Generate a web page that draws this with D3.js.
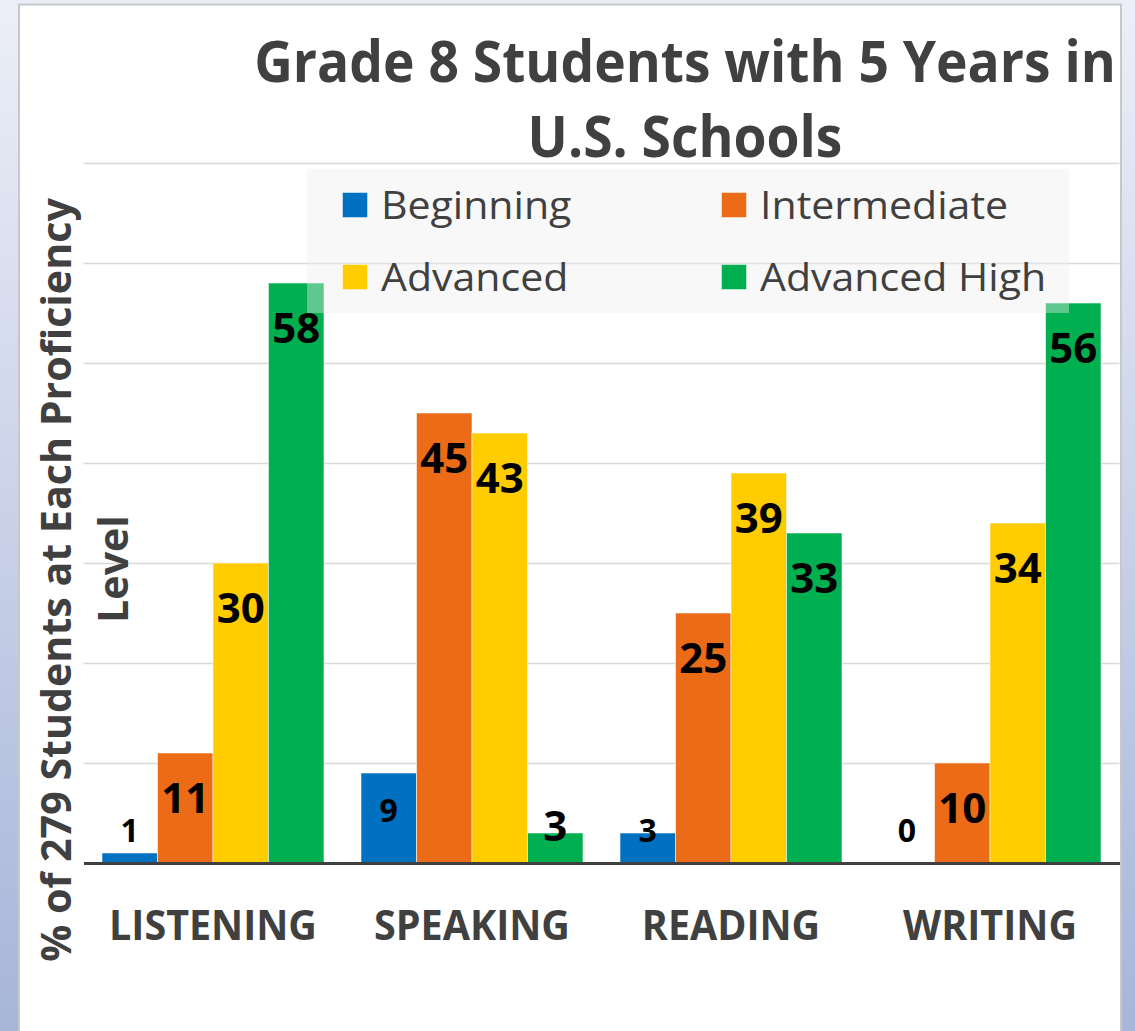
<!DOCTYPE html>
<html>
<head>
<meta charset="utf-8">
<script src="https://cdn.jsdelivr.net/npm/d3@7"></script>
<style>
body{margin:0;background:#fff;}
svg{display:block;}
</style>
</head>
<body>
<svg id="chart"></svg>
<script>
// chart values
var categories = ["LISTENING","SPEAKING","READING","WRITING"]
var seriesNames = ["Beginning","Intermediate","Advanced","Advanced High"]
var beginning = [1,9,3,0]
var intermediate = [11,45,25,10]
var advanced = [30,43,39,34]
var advancedHigh = [58,3,33,56]
var seriesColors = ["#0070c0","#eb6b17","#ffcc00","#00b050"]
var yTicks = [10,20,30,40,50,60,70]
var titleLines = ["Grade 8 Students with 5 Years in","U.S. Schools"]
var yTitleLines = ["% of 279 Students at Each Proficiency","Level"]

var width = 1135
var height = 1031
var plot = {left:83.5, right:1119.5, top:163, bottom:863}

var svg = d3.select("#chart")
    .attr("width",width)
    .attr("height",height)

// background
var defs = svg.append("defs")
var grad = defs.append("linearGradient")
    .attr("id","bg")
    .attr("x1",0).attr("y1",0).attr("x2",0).attr("y2",1)
grad.append("stop").attr("offset","0%").attr("stop-color","#eceff8")
grad.append("stop").attr("offset","100%").attr("stop-color","#a7b5d9")

svg.append("rect")
    .attr("width",width)
    .attr("height",height)
    .attr("fill","url(#bg)")

svg.append("rect")
    .attr("x",19)
    .attr("y",4.5)
    .attr("width",1102)
    .attr("height",1040)
    .attr("fill","#fff")
    .attr("stroke","#c8c8c8")
    .attr("stroke-width",2)

// Calibri-ish widths: stretch/squash Open Sans text by a factor
var fitText = function(sel,factor)
{
    sel.each(function()
    {
        var w = this.getComputedTextLength()
        d3.select(this)
            .attr("textLength",w*factor)
            .attr("lengthAdjust","spacingAndGlyphs")
    })
}

// scales
var x0 = d3.scaleBand()
    .domain(categories)
    .range([plot.left,plot.right])
    .paddingInner(0.143)
    .paddingOuter(0.0714)

var x1 = d3.scaleBand()
    .domain(seriesNames)
    .range([0,x0.bandwidth()])

var y = d3.scaleLinear()
    .domain([0,70])
    .range([plot.bottom,plot.top])

// gridlines
var grid = svg.append("g")
    .attr("transform","translate("+plot.left+",0)")
    .call(d3.axisLeft(y)
        .tickValues(yTicks)
        .tickSize(-(plot.right-plot.left))
        .tickFormat(""))
grid.select(".domain").remove()
grid.selectAll("line")
    .attr("stroke","#d9d9d9")
    .attr("stroke-width",1.5)

// bars
var seriesValues = [beginning,intermediate,advanced,advancedHigh]
var rows = []
seriesValues.forEach(function(vals,s)
{
    vals.forEach(function(v,i)
    {
        rows.push({cat:categories[i], series:seriesNames[s], s:s, value:v})
    })
})

svg.append("g")
    .selectAll("rect")
    .data(rows.filter(function(d){return d.value>0}))
    .enter()
    .append("rect")
    .attr("x",function(d){return x0(d.cat)+x1(d.series)})
    .attr("y",function(d){return y(d.value)})
    .attr("width",x1.bandwidth())
    .attr("height",function(d){return y(0)-y(d.value)})
    .attr("fill",function(d){return seriesColors[d.s]})
    .attr("stroke","rgba(255,255,255,0.55)")
    .attr("stroke-width",1)

// x axis
var xAxis = svg.append("g")
    .attr("transform","translate(0,"+plot.bottom+")")
    .call(d3.axisBottom(x0).tickSize(0).tickSizeOuter(0).tickPadding(47))
xAxis.select(".domain")
    .attr("stroke","#404040")
    .attr("stroke-width",3)
xAxis.selectAll("text")
    .attr("font-family","Open Sans")
    .attr("font-weight",700)
    .attr("font-size",42)
    .attr("fill","#404040")
    .call(fitText,0.94)

// value labels
svg.append("g")
    .selectAll("text")
    .data(rows)
    .enter()
    .append("text")
    .attr("x",function(d){return x0(d.cat)+x1(d.series)+x1.bandwidth()/2})
    .attr("y",function(d)
    {
        if(d.s==0) return Math.min(y(d.value)+37,830)
        return Math.min(y(d.value)+45,826)
    })
    .attr("dy","0.36em")
    .attr("text-anchor","middle")
    .attr("font-family","Open Sans")
    .attr("font-weight",700)
    .attr("font-size",function(d){return d.s==0 ? 32 : 42})
    .attr("fill","#000")
    .text(function(d){return d.value})

// legend
var legend = svg.append("g")
legend.append("rect")
    .attr("x",307)
    .attr("y",169)
    .attr("width",762)
    .attr("height",144)
    .attr("fill","#eeeeee")
    .attr("fill-opacity",0.4)

var items = legend.selectAll("g.item")
    .data(seriesNames)
    .enter()
    .append("g")
    .attr("class","item")
    .attr("transform",function(d,i)
    {
        return "translate("+(342+(i%2)*379)+","+(205+Math.floor(i/2)*72)+")"
    })
items.append("rect")
    .attr("x",0.5)
    .attr("y",-12.5)
    .attr("width",25)
    .attr("height",25)
    .attr("fill",function(d,i){return seriesColors[i]})
    .attr("stroke","rgba(255,255,255,0.45)")
    .attr("stroke-width",1)
items.append("text")
    .attr("x",39)
    .attr("dy","0.36em")
    .attr("font-family","Open Sans")
    .attr("font-size",38)
    .attr("fill","#404040")
    .text(function(d){return d})
    .call(fitText,1.08)

// title
svg.append("g")
    .selectAll("text")
    .data(titleLines)
    .enter()
    .append("text")
    .attr("x",685)
    .attr("y",function(d,i){return 82+i*75})
    .attr("text-anchor","middle")
    .attr("font-family","Open Sans")
    .attr("font-weight",700)
    .attr("font-size",58)
    .attr("fill","#404040")
    .text(function(d){return d})
    .call(fitText,0.92)

// y axis title
svg.append("g")
    .attr("transform","translate(0,580) rotate(-90)")
    .selectAll("text")
    .data(yTitleLines)
    .enter()
    .append("text")
    .attr("x",function(d,i){return i*11})
    .attr("y",function(d,i){return 71+i*57})
    .attr("text-anchor","middle")
    .attr("font-family","Open Sans")
    .attr("font-weight",700)
    .attr("font-size",42)
    .attr("fill","#404040")
    .text(function(d){return d})
    .call(fitText,0.98)
</script>
</body>
</html>
